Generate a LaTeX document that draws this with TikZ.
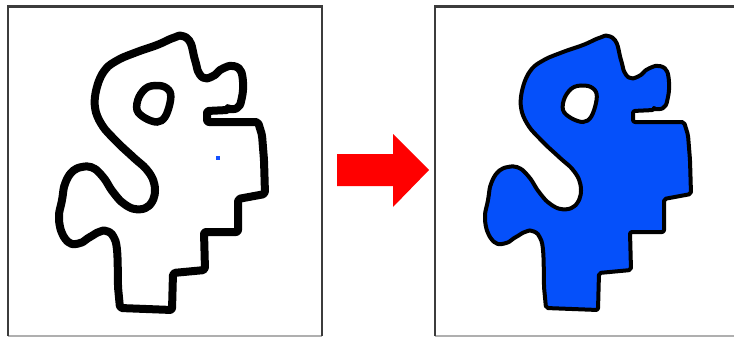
\documentclass[tikz,border=0pt]{standalone}
\definecolor{fillblue}{RGB}{5,80,250}
\definecolor{dotblue}{RGB}{20,80,255}
\definecolor{framegray}{RGB}{60,60,60}
\definecolor{lightframe}{RGB}{175,175,175}
\def\shapepath{(207,111) -- (207,122) -- (258,122) -- (262,135) -- (264,160) -- (265,194) -- (238,199) -- (238,232) -- (204,232) -- (205,270) -- (173,273) -- (172,310) -- (120,308) -- plot[smooth, tension=0.6] coordinates {(118,287) (117,250) (113,236) (106,231) (99,232) (90,237) (80,243) (70,243) (62,233) (59,217) (62,200) (65,184) (72,172) (82,167) (93,168) (103,177) (113,192) (123,203) (135,209) (147,207) (154,197) (154,183) (147,170) (133,157) (117,142) (102,125) (95,107) (97,87) (105,70) (118,60) (137,52) (157,45) (173,38) (182,36) (190,42) (195,60) (199,73) (205,78) (213,76) (222,69) (232,66) (240,70) (243,82) (242,97) (238,107) (228,110)} -- cycle}
\def\holepath{plot[smooth cycle, tension=0.6] coordinates {(137,110) (139,97) (148,87) (162,86) (170,92) (170,103) (165,117) (157,122) (145,118)}}
\tikzset{
  framestyle/.style={framegray, line width=2.2pt},
  bottomframe/.style={lightframe, line width=1.5pt},
  outlinestyle/.style={line join=round, rounded corners=2pt}
}
\begin{document}
\begin{tikzpicture}[x=1pt,y=-1pt]
\useasboundingbox (0,0) rectangle (734,337);
% left panel frame
\draw[bottomframe] (8,336) -- (322,336);
\draw[framestyle] (8,336) -- (8,6.5) -- (322,6.5) -- (322,336);
% right panel frame
\draw[bottomframe] (435,336) -- (740,336);
\draw[framestyle] (435,336) -- (435,6.5) -- (740,6.5);
% left shape (outline only)
\draw[outlinestyle, line width=8pt] \shapepath;
\draw[line width=7.5pt] \holepath;
\fill[dotblue] (216,156) rectangle (220,160);
% arrow
\fill[red] (337,154) -- (393,154) -- (393,134) -- (429,170) -- (393,207) -- (393,186) -- (337,186) -- cycle;
% right shape (filled)
\begin{scope}[shift={(426,0)}]
\fill[fillblue, even odd rule, rounded corners=2pt] \shapepath \holepath;
\draw[outlinestyle, line width=4pt] \shapepath;
\draw[line width=4pt] \holepath;
\end{scope}
\end{tikzpicture}
\end{document}
